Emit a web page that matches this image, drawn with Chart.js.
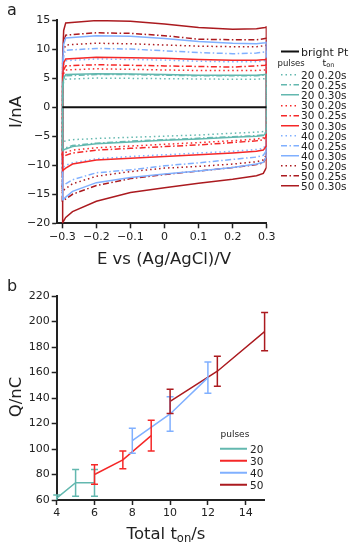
<!DOCTYPE html>
<html>
<head>
<meta charset="utf-8">
<script src="https://cdn.jsdelivr.net/npm/chart.js@4.4.1/dist/chart.umd.min.js"></script>
<style>
  body { margin: 0; background: #fff; }
  #wrap { position: relative; width: 349px; height: 550px; overflow: hidden;
          font-family: "DejaVu Sans", sans-serif; color: #222; }
  #wrap canvas { position: absolute; left: 0; }
  .lbl { position: absolute; white-space: nowrap; line-height: 1; transform: translate(-50%, -50%); }
  .rot { transform: translate(-50%, -50%) rotate(-90deg); }
  .leg { position: absolute; white-space: nowrap; line-height: 1; transform: translateY(-50%); }
  .leg svg { position: absolute; }
  sub { font-size: 70%; vertical-align: -0.25em; line-height: 0; }
</style>
</head>
<body>
<div id="wrap">
  <canvas id="cvA" width="349" height="275" style="top:0"></canvas>
  <canvas id="cvB" width="349" height="275" style="top:275px"></canvas>

  <div class="lbl" style="left:12px; top:10px; font-size:16px;">a</div>
  <div class="lbl rot" style="left:16px; top:112px; font-size:16.5px;">I/nA</div>
  <div class="lbl" style="left:164px; top:259px; font-size:16.5px;">E vs (Ag/AgCl)/V</div>

  <div class="lbl" style="left:12px; top:286px; font-size:16px;">b</div>
  <div class="lbl rot" style="left:16px; top:397px; font-size:16.5px;">Q/nC</div>
  <div class="lbl" style="left:166px; top:534px; font-size:16.5px;">Total t<sub>on</sub>/s</div>

  <div id="legA"></div>
  <div id="legB"></div>
</div>

<script>
// ---- panel a: cyclic voltammograms ----
// potentials of the points on the forward (upper) and reverse (lower) sweep
const E_FWD = [-0.3, -0.299, -0.296, -0.29, -0.2, -0.1, 0, 0.1, 0.2, 0.27, 0.295, 0.3];
const E_REV = [0.3, 0.298, 0.29, 0.27, 0.2, 0.1, 0, -0.1, -0.2, -0.27, -0.29, -0.3];

const BRIGHT_E = [-0.3, 0.3];
const BRIGHT_I = [0, 0];

const fwd_20_020 = [-6.0, 3.0, 4.4, 4.8, 5.0, 4.95, 4.9, 4.85, 4.8, 4.8, 4.9, 5.0];
const rev_20_020 = [-3.2, -3.8, -4.2, -4.3, -4.5, -4.8, -5.0, -5.2, -5.4, -5.6, -5.8, -6.0];
const fwd_20_025 = [-7.3, 3.3, 4.9, 5.4, 5.6, 5.6, 5.5, 5.4, 5.4, 5.4, 5.5, 5.6];
const rev_20_025 = [-3.7, -4.3, -4.8, -4.9, -5.1, -5.35, -5.6, -5.85, -6.2, -6.6, -7.0, -7.3];
const fwd_20_030 = [-7.5, 3.4, 5.0, 5.6, 5.75, 5.7, 5.6, 5.5, 5.5, 5.5, 5.6, 5.7];
const rev_20_030 = [-3.8, -4.4, -4.9, -5.0, -5.2, -5.5, -5.7, -6.0, -6.3, -6.8, -7.2, -7.5];

const fwd_30_020 = [-8.2, 4.0, 5.8, 6.4, 6.6, 6.5, 6.4, 6.3, 6.3, 6.3, 6.4, 6.5];
const rev_30_020 = [-4.1, -4.8, -5.3, -5.5, -5.8, -6.1, -6.4, -6.7, -7.0, -7.4, -7.8, -8.2];
const fwd_30_025 = [-8.7, 4.4, 6.4, 7.1, 7.3, 7.2, 7.1, 7.0, 6.9, 7.1, 7.2, 7.3];
const rev_30_025 = [-4.4, -5.1, -5.6, -5.8, -6.1, -6.5, -6.8, -7.1, -7.4, -7.9, -8.3, -8.7];
const fwd_30_030 = [-11.0, 5.2, 7.6, 8.3, 8.6, 8.5, 8.4, 8.2, 8.05, 8.05, 8.2, 8.3];
const rev_30_030 = [-5.7, -6.7, -7.4, -7.6, -7.9, -8.2, -8.5, -8.8, -9.1, -9.8, -10.5, -11.0];

const fwd_40_020 = [-10.5, 5.0, 7.3, 8.0, 8.3, 8.2, 8.1, 7.9, 7.8, 7.8, 8.0, 8.1];
const rev_40_020 = [-5.5, -6.4, -7.1, -7.3, -7.6, -7.9, -8.2, -8.5, -8.9, -9.6, -10.0, -10.5];
const fwd_40_025 = [-13.6, 6.0, 8.9, 9.8, 10.1, 10.0, 9.7, 9.4, 9.2, 9.3, 9.5, 9.6];
const rev_40_025 = [-6.4, -7.6, -8.3, -8.6, -9.0, -9.6, -10.1, -10.8, -11.3, -12.5, -13.2, -13.6];
const fwd_40_030 = [-16.0, 7.4, 10.8, 11.9, 12.3, 12.2, 11.8, 11.3, 11.0, 10.9, 11.1, 11.2];
const rev_40_030 = [-7.3, -8.6, -9.5, -9.8, -10.4, -11.0, -11.5, -12.1, -13.0, -14.5, -15.5, -16.0];

const fwd_50_020 = [-14.5, 6.5, 9.7, 10.7, 11.0, 10.9, 10.7, 10.5, 10.4, 10.4, 10.6, 10.7];
const rev_50_020 = [-7.0, -8.3, -9.1, -9.4, -9.8, -10.2, -10.5, -11.1, -11.9, -13.2, -14.0, -14.5];
const fwd_50_025 = [-16.3, 7.5, 11.2, 12.4, 12.8, 12.7, 12.3, 11.7, 11.6, 11.6, 11.8, 11.9];
const rev_50_025 = [-7.4, -8.7, -9.6, -9.9, -10.4, -11.0, -11.6, -12.3, -13.5, -15.0, -15.8, -16.3];
const fwd_50_030 = [-20.0, 8.5, 13.2, 14.5, 14.9, 14.8, 14.3, 13.7, 13.4, 13.5, 13.7, 13.8];
const rev_50_030 = [-8.8, -10.4, -11.4, -11.8, -12.4, -13.1, -13.9, -14.7, -16.2, -18.0, -19.0, -20.0];

const CV_PULSES = [20, 20, 20, 30, 30, 30, 40, 40, 40, 50, 50, 50];
const CV_TON = ['0.20s', '0.25s', '0.30s', '0.20s', '0.25s', '0.30s', '0.20s', '0.25s', '0.30s', '0.20s', '0.25s', '0.30s'];
const CV_FWD = [fwd_20_020, fwd_20_025, fwd_20_030, fwd_30_020, fwd_30_025, fwd_30_030,
                fwd_40_020, fwd_40_025, fwd_40_030, fwd_50_020, fwd_50_025, fwd_50_030];
const CV_REV = [rev_20_020, rev_20_025, rev_20_030, rev_30_020, rev_30_025, rev_30_030,
                rev_40_020, rev_40_025, rev_40_030, rev_50_020, rev_50_025, rev_50_030];

const E_TICKS = [-0.3, -0.2, -0.1, 0, 0.1, 0.2, 0.3];
const I_TICKS = [-20, -15, -10, -5, 0, 5, 10, 15];

// ---- panel b: charge vs total t_on ----
const TON_20 = [4, 5, 6];
const Q_20 = [61.5, 73.5, 73.5];
const ERR_20 = [2.5, 10.5, 10.5];
const TON_30 = [6, 7.5, 9];
const Q_30 = [80, 91.5, 110.5];
const ERR_30 = [7.7, 7, 12];
const TON_40 = [8, 10, 12];
const Q_40 = [106.5, 127.5, 156];
const ERR_40 = [9.8, 13.5, 12.2];
const TON_50 = [10, 12.5, 15];
const Q_50 = [137.4, 161, 192];
const ERR_50 = [9.5, 11.8, 15];

const T_TICKS = [4, 6, 8, 10, 12, 14];
const Q_TICKS = [60, 80, 100, 120, 140, 160, 180, 200, 220];

// styles
const colors = { 20: '#63b8af', 30: '#f52828', 40: '#80b0ff', 50: '#ab1a1f' };
const dashes = { '0.20s': [1.5, 3], '0.25s': [6, 2.5, 1.5, 2.5], '0.30s': [] };
const svgDash = { '0.20s': '1.5 3', '0.25s': '6 2.5 1.5 2.5', '0.30s': 'none' };
const ink = '#222';
const tickFont = { family: 'DejaVu Sans', size: 11 };

function minus(s) { return s.replace('-', '\u2212'); }

function axisStyle(extra) {
  return Object.assign({
    type: 'linear',
    grid: { drawOnChartArea: false, drawTicks: true, tickLength: 5, tickWidth: 1.5, tickColor: ink },
    border: { display: true, width: 2, color: ink },
  }, extra);
}

Chart.defaults.font.family = 'DejaVu Sans';

// panel a
const cvSets = [{
  data: BRIGHT_E.map((e, i) => ({ x: e, y: BRIGHT_I[i] })),
  borderColor: '#111', borderWidth: 2, borderDash: []
}];
CV_FWD.forEach((fwd, k) => {
  const pts = E_FWD.map((e, i) => ({ x: e, y: fwd[i] }))
    .concat(E_REV.map((e, i) => ({ x: e, y: CV_REV[k][i] })));
  cvSets.push({
    data: pts,
    borderColor: colors[CV_PULSES[k]],
    borderWidth: 1.5,
    borderDash: dashes[CV_TON[k]]
  });
});

new Chart(document.getElementById('cvA'), {
  type: 'line',
  data: { datasets: cvSets },
  options: {
    responsive: false, animation: false,
    layout: { padding: { left: 0, top: 20, right: 82.3, bottom: 0 } },
    elements: { point: { radius: 0 }, line: { tension: 0, fill: false } },
    plugins: { legend: { display: false }, tooltip: { enabled: false } },
    scales: {
      x: axisStyle({
        min: -0.315, max: 0.3,
        afterBuildTicks: s => { s.ticks = E_TICKS.map(v => ({ value: v })); },
        afterFit: s => { s.height = 51.7; },
        ticks: { color: ink, font: tickFont, padding: 2, maxRotation: 0, autoSkip: false,
                 callback: v => v === 0 ? '0' : minus(v.toFixed(1)) }
      }),
      y: axisStyle({
        min: -20, max: 15,
        afterBuildTicks: s => { s.ticks = I_TICKS.map(v => ({ value: v })); },
        afterFit: s => { s.width = 57.2; },
        ticks: { color: ink, font: tickFont, padding: 2, callback: v => minus(String(v)) }
      })
    }
  }
});

// panel b
const errorBars = {
  id: 'errorBars',
  afterDatasetsDraw(chart) {
    const { ctx, chartArea, scales } = chart;
    ctx.save();
    ctx.beginPath();
    ctx.rect(0, 0, chart.width, chartArea.bottom);
    ctx.clip();
    chart.data.datasets.forEach(ds => {
      ctx.strokeStyle = ds.borderColor;
      ctx.lineWidth = 1.5;
      ds.data.forEach((p, i) => {
        const px = scales.x.getPixelForValue(p.x);
        const top = scales.y.getPixelForValue(p.y + ds.errors[i]);
        const bot = scales.y.getPixelForValue(p.y - ds.errors[i]);
        ctx.beginPath();
        ctx.moveTo(px, top); ctx.lineTo(px, bot);
        ctx.moveTo(px - 3.5, top); ctx.lineTo(px + 3.5, top);
        ctx.moveTo(px - 3.5, bot); ctx.lineTo(px + 3.5, bot);
        ctx.stroke();
      });
    });
    ctx.restore();
  }
};

const qSeries = [[20, TON_20, Q_20, ERR_20], [30, TON_30, Q_30, ERR_30],
                 [40, TON_40, Q_40, ERR_40], [50, TON_50, Q_50, ERR_50]];

new Chart(document.getElementById('cvB'), {
  type: 'line',
  data: {
    datasets: qSeries.map(([n, t, q, err]) => ({
      data: t.map((v, i) => ({ x: v, y: q[i] })),
      errors: err,
      borderColor: colors[n],
      borderWidth: 1.5
    }))
  },
  options: {
    responsive: false, animation: false,
    layout: { padding: { left: 0, top: 21, right: 84.4, bottom: 0 } },
    elements: { point: { radius: 0 }, line: { tension: 0, fill: false } },
    plugins: { legend: { display: false }, tooltip: { enabled: false } },
    scales: {
      x: axisStyle({
        min: 4, max: 15,
        afterBuildTicks: s => { s.ticks = T_TICKS.map(v => ({ value: v })); },
        afterFit: s => { s.height = 50; },
        ticks: { color: ink, font: tickFont, padding: 2, maxRotation: 0, autoSkip: false }
      }),
      y: axisStyle({
        min: 60, max: 220,
        afterBuildTicks: s => { s.ticks = Q_TICKS.map(v => ({ value: v })); },
        afterFit: s => { s.width = 56.7; },
        ticks: { color: ink, font: tickFont, padding: 2 }
      })
    }
  },
  plugins: [errorBars]
});

// legends (HTML, so the subscript stays real text)
function legRow(parent, left, top, color, dash, width, text, size) {
  const d = document.createElement('div');
  d.className = 'leg';
  d.style.left = left + 'px';
  d.style.top = top + 'px';
  d.style.fontSize = size + 'px';
  d.style.paddingLeft = '20px';
  d.innerHTML = '<svg width="18" height="6" style="left:0;top:50%;margin-top:-3px">' +
    '<line x1="0" y1="3" x2="18" y2="3" stroke="' + color + '" stroke-width="' + width +
    '" stroke-dasharray="' + dash + '"/></svg>' + text;
  parent.appendChild(d);
  return d;
}

const legA = document.getElementById('legA');
legRow(legA, 281, 51.5, '#111', 'none', 2, 'bright Pt', 11);
const hdr = document.createElement('div');
hdr.className = 'leg';
hdr.style.cssText = 'left:277.5px;top:62.5px;font-size:8.5px;';
hdr.innerHTML = 'pulses<span style="position:absolute;left:45px;top:-1px;font-size:9.5px">t<sub>on</sub></span>';
legA.appendChild(hdr);
CV_PULSES.forEach((n, k) => {
  legRow(legA, 281, 75 + k * 10.1, colors[n], svgDash[CV_TON[k]], 1.5,
         n + ' ' + CV_TON[k], 10.5);
});

const legB = document.getElementById('legB');
const hdrB = document.createElement('div');
hdrB.className = 'leg';
hdrB.style.cssText = 'left:220.5px;top:433.5px;font-size:9px;';
hdrB.textContent = 'pulses';
legB.appendChild(hdrB);
qSeries.forEach(([n], k) => {
  const r = legRow(legB, 220, 449 + k * 12, colors[n], 'none', 2, String(n), 10.5);
  r.querySelector('svg').setAttribute('width', '27');
  r.querySelector('line').setAttribute('x2', '27');
  r.style.paddingLeft = '30px';
});
</script>
</body>
</html>
